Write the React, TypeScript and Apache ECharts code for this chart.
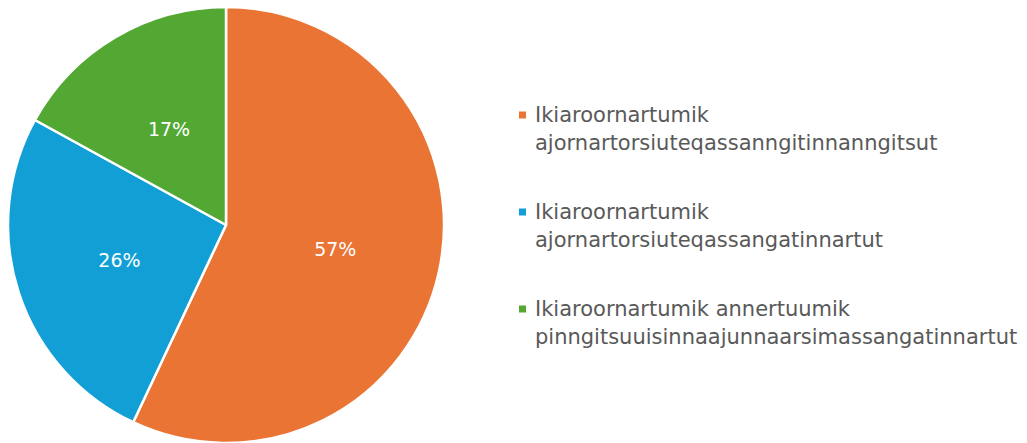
import React, { useEffect, useRef } from "react";
import * as echarts from "echarts";

const categories = [
  "Ikiaroornartumik\najornartorsiuteqassanngitinnanngitsut",
  "Ikiaroornartumik\najornartorsiuteqassangatinnartut",
  "Ikiaroornartumik annertuumik\npinngitsuuisinnaajunnaarsimassangatinnartut",
];
const values = [57, 26, 17];
const colors = ["#EA7434", "#119FD6", "#52A833"];

export default function App() {
  const ref = useRef<HTMLDivElement>(null);
  useEffect(() => {
    if (!ref.current) return;
    const chart = echarts.init(ref.current, undefined, { renderer: "svg" });
    const FONT = "DejaVu Sans";
    chart.setOption({
      animation: false,
      color: colors,
      legend: {
        orient: "vertical",
        left: 519,
        top: 73,
        padding: 0,
        itemGap: 13,
        itemWidth: 7,
        itemHeight: 7,
        icon: "rect",
        selectedMode: false,
        data: categories,
        itemStyle: { borderWidth: 0 },
        formatter: (name: string) => " \n" + name,
        textStyle: {
          color: "#595959",
          fontFamily: FONT,
          fontSize: 21,
          lineHeight: 28,
          padding: [0, 0, 0, 4],
        },
      },
      series: [
        {
          type: "pie",
          center: [226, 225],
          radius: 218,
          startAngle: 90,
          clockwise: true,
          label: {
            show: true,
            position: "inside",
            formatter: "{c}%",
            color: "#ffffff",
            fontFamily: FONT,
            fontSize: 19,
          },
          labelLine: { show: false },
          itemStyle: { borderColor: "#ffffff", borderWidth: 2.5 },
          emphasis: { disabled: true },
          data: categories.map((name, i) => ({ name, value: values[i] })),
        },
      ],
    });
    return () => chart.dispose();
  }, []);
  return (
    <div
      ref={ref}
      style={{ position: "fixed", left: 0, top: 0, width: 1027, height: 443, background: "#fff" }}
    />
  );
}
